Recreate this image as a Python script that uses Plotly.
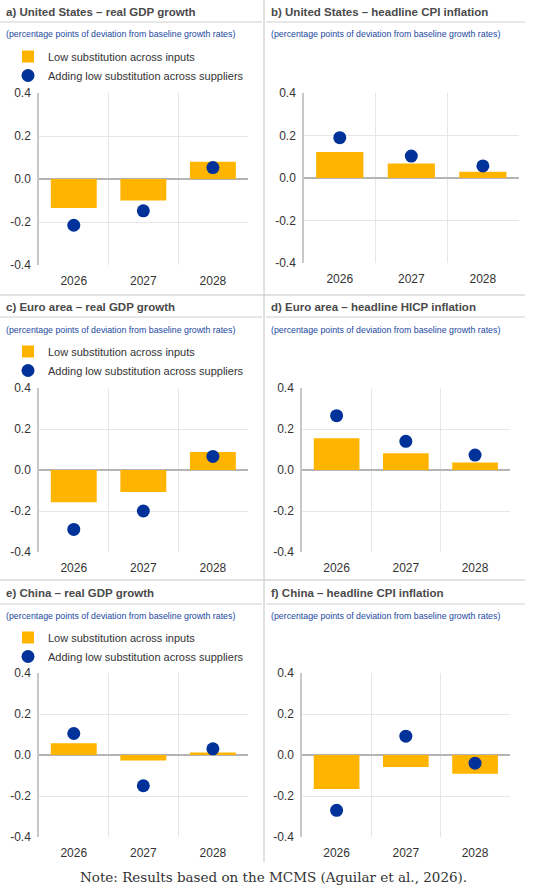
import plotly.graph_objects as go

W, H = 543, 891

years = ["2026", "2027", "2028"]

# low substitution across inputs (bars) / adding low substitution across suppliers (dots)
us_gdp_inputs = [-0.135, -0.100, 0.080]
us_gdp_suppliers = [-0.215, -0.148, 0.053]
us_cpi_inputs = [0.122, 0.068, 0.030]
us_cpi_suppliers = [0.190, 0.103, 0.057]
ea_gdp_inputs = [-0.157, -0.107, 0.088]
ea_gdp_suppliers = [-0.290, -0.200, 0.066]
ea_hicp_inputs = [0.155, 0.082, 0.036]
ea_hicp_suppliers = [0.265, 0.140, 0.073]
cn_gdp_inputs = [0.057, -0.027, 0.012]
cn_gdp_suppliers = [0.105, -0.150, 0.030]
cn_cpi_inputs = [-0.166, -0.058, -0.092]
cn_cpi_suppliers = [-0.270, 0.092, -0.040]

titles = [
    "a) United States \u2013 real GDP growth",
    "b) United States \u2013 headline CPI inflation",
    "c) Euro area \u2013 real GDP growth",
    "d) Euro area \u2013 headline HICP inflation",
    "e) China \u2013 real GDP growth",
    "f) China \u2013 headline CPI inflation",
]
subtitle = "(percentage points of deviation from baseline growth rates)"
note = "Note: Results based on the MCMS (Aguilar et al., 2026)."
y_ticks = [-0.4, -0.2, 0.0, 0.2, 0.4]
y_ticktext = ["-0.4", "-0.2", "0.0", "0.2", "0.4"]

YELLOW = "#FFB400"
BLUE = "#003299"
FONT = "Liberation Sans, Arial, sans-serif"

panels = [
    (us_gdp_inputs, us_gdp_suppliers),
    (us_cpi_inputs, us_cpi_suppliers),
    (ea_gdp_inputs, ea_gdp_suppliers),
    (ea_hicp_inputs, ea_hicp_suppliers),
    (cn_gdp_inputs, cn_gdp_suppliers),
    (cn_cpi_inputs, cn_cpi_suppliers),
]

# plot areas in pixels: left, right, top, bottom
boxes = [
    (39, 248, 93, 265), (304, 519, 93, 263),
    (39, 248, 388, 552), (302, 510, 388, 552),
    (39, 248, 673, 837), (302, 510, 673, 837),
]
legend_names = {0: "legend", 2: "legend2", 4: "legend3"}

def px(x):
    return x / W

def py(y):
    return 1 - y / H

fig = go.Figure()
layout = {}
for i, (inputs, suppliers) in enumerate(panels):
    n = "" if i == 0 else str(i + 1)
    leg = legend_names.get(i)
    fig.add_trace(go.Bar(
        x=years, y=inputs, xaxis="x" + n, yaxis="y" + n,
        name="Low substitution across inputs", marker_color=YELLOW,
        width=0.66, showlegend=leg is not None, legend=leg or "legend",
    ))
    fig.add_trace(go.Scatter(
        x=years, y=suppliers, xaxis="x" + n, yaxis="y" + n, mode="markers",
        name="Adding low substitution across suppliers",
        marker=dict(color=BLUE, size=13),
        showlegend=leg is not None, legend=leg or "legend",
    ))
    l, r, t, b = boxes[i]
    layout["xaxis" + n] = dict(
        domain=[px(l), px(r)], anchor="y" + n, type="category",
        range=[-0.5, 2.505], automargin=False,
        tickson="boundaries", showgrid=True, gridcolor="#e6e6e6",
        ticks="", ticklabelstandoff=7,
        tickfont=dict(size=12, color="#333333", family=FONT),
        showline=False, fixedrange=True,
    )
    layout["yaxis" + n] = dict(
        domain=[py(b), py(t)], anchor="x" + n, range=[-0.4, 0.4],
        automargin=False,
        tickvals=y_ticks, ticktext=y_ticktext, showgrid=True,
        gridcolor="#e6e6e6", zeroline=True, zerolinecolor="#b4b4b4",
        zerolinewidth=1.5, showline=True, linecolor="#c8c8c8", linewidth=1.5,
        ticks="outside", ticklen=4, tickcolor="rgba(0,0,0,0)",
        tickfont=dict(size=12, color="#333333", family=FONT), fixedrange=True,
    )

for key, top in (("legend", 42), ("legend2", 337), ("legend3", 623)):
    layout[key] = dict(
        x=px(8), y=py(top), xanchor="left", yanchor="top",
        font=dict(size=11, color="#333333", family=FONT),
        bgcolor="rgba(0,0,0,0)", tracegroupgap=0,
    )

annotations = []
title_rows = [12, 307, 593]
sub_rows = [34, 330, 616]
for i, title in enumerate(titles):
    x0 = 4 if i % 2 == 0 else 269
    row = i // 2
    annotations.append(dict(
        text="<b>" + title + "</b>", x=px(x0), y=py(title_rows[row]),
        xref="paper", yref="paper", xanchor="left", yanchor="middle",
        showarrow=False, font=dict(size=11.5, color="#4a4a4a", family=FONT),
    ))
    annotations.append(dict(
        text=subtitle, x=px(x0), y=py(sub_rows[row]),
        xref="paper", yref="paper", xanchor="left", yanchor="middle",
        showarrow=False, font=dict(size=8.8, color="#2348a0", family=FONT),
    ))
annotations.append(dict(
    text=note, x=px(273), y=py(877), xref="paper", yref="paper",
    xanchor="center", yanchor="middle", showarrow=False,
    font=dict(size=13.5, color="#333333", family="DejaVu Serif, serif"),
))

shapes = []
# thin rules under each panel title
for yl in (22, 317, 604):
    shapes.append(dict(type="line", xref="paper", yref="paper",
                       x0=0, x1=px(262), y0=py(yl), y1=py(yl),
                       line=dict(color="#d0d0d0", width=1)))
    shapes.append(dict(type="line", xref="paper", yref="paper",
                       x0=px(266), x1=px(525), y0=py(yl), y1=py(yl),
                       line=dict(color="#d0d0d0", width=1)))
# separators between rows and columns
for yl in (295, 580):
    shapes.append(dict(type="line", xref="paper", yref="paper",
                       x0=0, x1=px(525), y0=py(yl), y1=py(yl),
                       line=dict(color="#c4c4c4", width=1)))
shapes.append(dict(type="line", xref="paper", yref="paper",
                   x0=px(264), x1=px(264), y0=py(0), y1=py(862),
                   line=dict(color="#c4c4c4", width=1)))

fig.update_layout(
    template="none",
    width=W, height=H, margin=dict(l=0, r=0, t=0, b=0, autoexpand=False),
    paper_bgcolor="white", plot_bgcolor="white",
    bargap=0.34, annotations=annotations, shapes=shapes,
    font=dict(family=FONT), **layout,
)

# drop the browser's default 8px page margin so the figure fills the window
fig.write_html("out.html", config={"displayModeBar": False},
               post_script="document.body.style.margin = '0';")
